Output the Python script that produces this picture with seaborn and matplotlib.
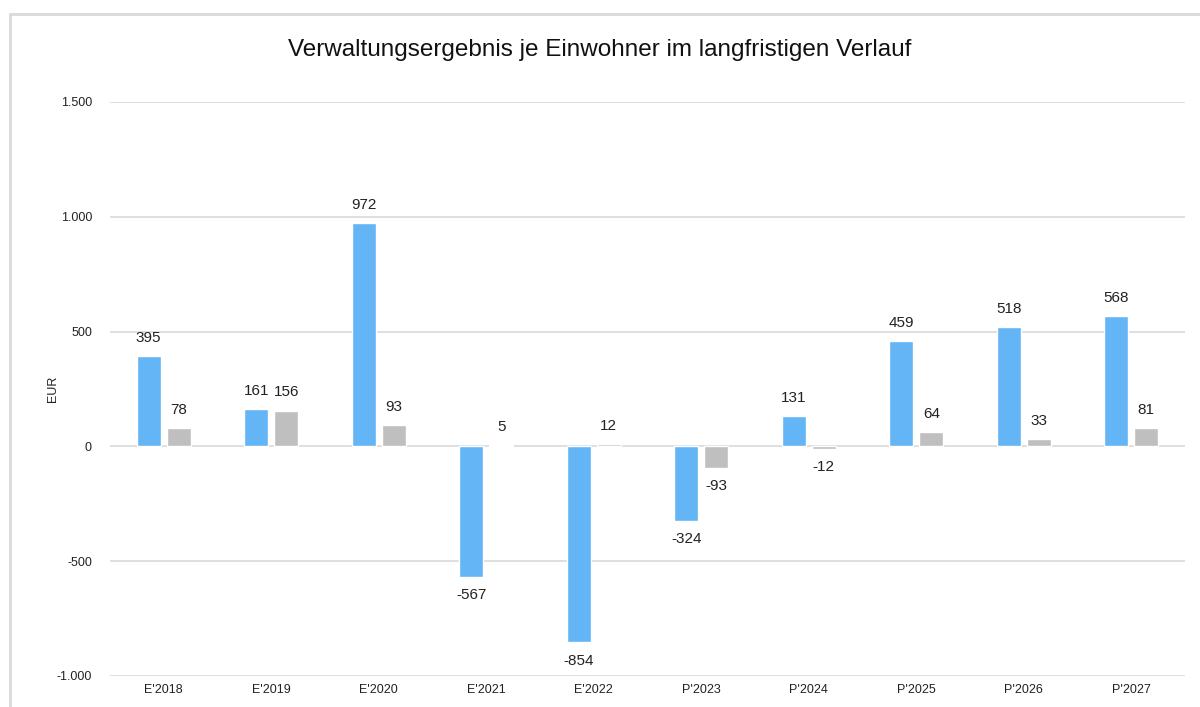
import matplotlib
matplotlib.use("Agg")
import matplotlib.pyplot as plt
import seaborn as sns
import pandas as pd
from matplotlib.patches import Rectangle
from matplotlib.ticker import FuncFormatter

categories = ["E'2018", "E'2019", "E'2020", "E'2021", "E'2022",
              "P'2023", "P'2024", "P'2025", "P'2026", "P'2027"]
series_a = [395, 161, 972, -567, -854, -324, 131, 459, 518, 568]
series_b = [78, 156, 93, 5, 12, -93, -12, 64, 33, 81]
series_names = ["Gemeinde", "Vergleich"]
colors = ["#63B5F6", "#BFBFBF"]

df = pd.DataFrame({
    "Jahr": categories * 2,
    "Wert": series_a + series_b,
    "Reihe": [series_names[0]] * len(categories) + [series_names[1]] * len(categories),
})

sns.set_theme(style="white")
plt.rcParams["font.family"] = ["Liberation Sans", "DejaVu Sans"]

fig = plt.figure(figsize=(12, 7.07), dpi=100)
ax = fig.add_axes([110 / 1200, 1 - 676 / 707, 1075 / 1200, 574 / 707])

sns.barplot(data=df, x="Jahr", y="Wert", hue="Reihe", palette=colors,
            width=0.56, gap=0.2, legend=False, ax=ax, saturation=1,
            order=categories, hue_order=series_names)

ax.set_ylim(-1000, 1500)
ax.set_yticks([-1000, -500, 0, 500, 1000, 1500])
ax.yaxis.set_major_formatter(FuncFormatter(lambda v, p: f"{int(v):,}".replace(",", ".")))
ax.grid(axis="y", color="#D9D9D9", linewidth=1.2)
ax.set_axisbelow(True)
for s in ax.spines.values():
    s.set_visible(False)
ax.tick_params(axis="both", length=0, labelsize=9, colors="#222222")
ax.tick_params(axis="y", pad=13)
ax.tick_params(axis="x", pad=6)
ax.set_xlabel("")
ax.set_ylabel("EUR", fontsize=9, color="#222222")
ax.yaxis.set_label_coords((59 - 110) / 1075, 0.5)
ax.set_xlim(-0.5, len(categories) - 0.5)

for cont in ax.containers:
    for bar in cont:
        h = bar.get_height()
        x = bar.get_x() + bar.get_width() / 2
        if h >= 0:
            ax.annotate(f"{int(round(h))}", (x, h), xytext=(0, 8), textcoords="offset points",
                        ha="center", va="bottom", fontsize=11, color="#222222")
        else:
            ax.annotate(f"{int(round(h))}", (x, h), xytext=(0, -8), textcoords="offset points",
                        ha="center", va="top", fontsize=11, color="#222222")

fig.text(0.5, 1 - 50 / 707, "Verwaltungsergebnis je Einwohner im langfristigen Verlauf",
         ha="center", va="center", fontsize=17.5, color="#111111")

fig.patches.append(Rectangle((10 / 1200, -0.05), 1.2, 1 - 14 / 707 + 0.05,
                             transform=fig.transFigure, fill=False,
                             edgecolor="#D9D9D9", linewidth=2))

fig.savefig("out.png", dpi=100, facecolor="white")
